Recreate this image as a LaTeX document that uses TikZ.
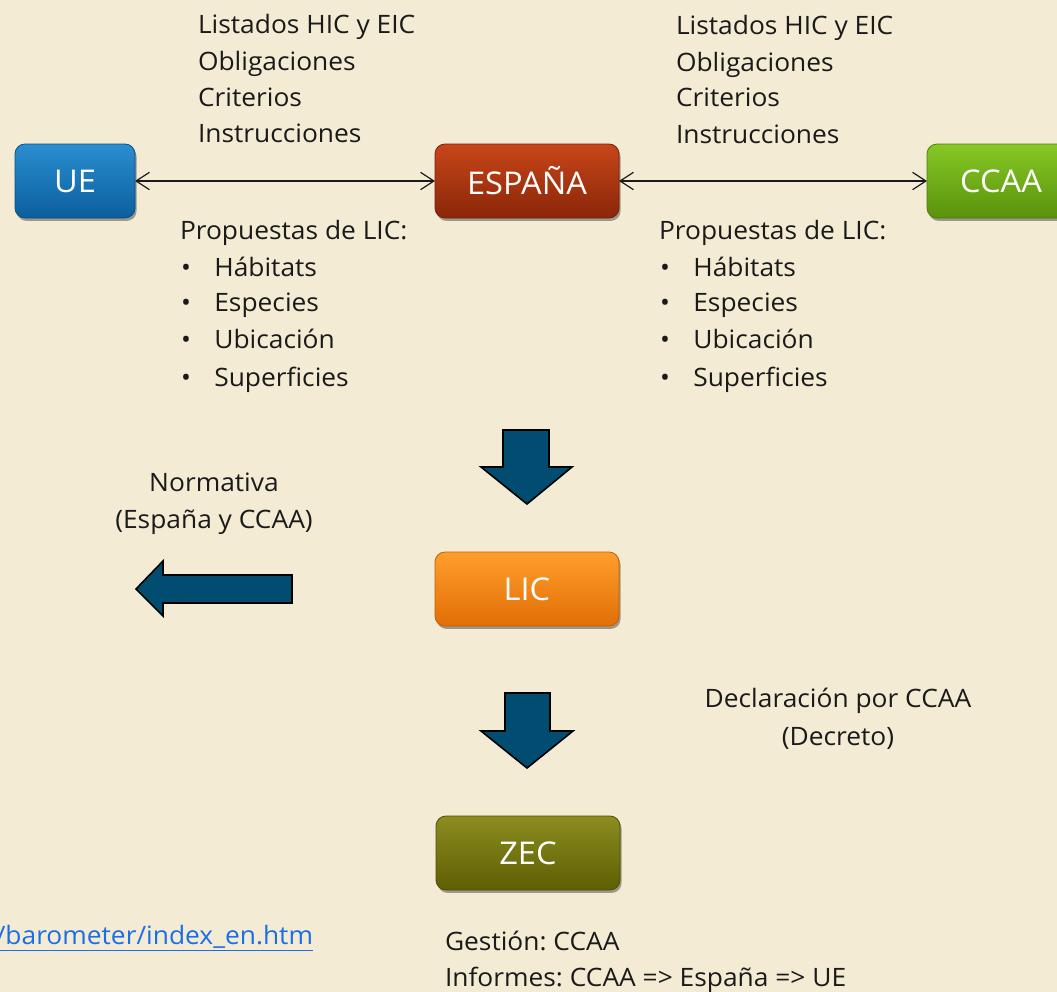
\documentclass[tikz,border=0pt]{standalone}
\usepackage{fontspec}
\setmainfont[FakeStretch=1.04]{Open Sans}
\usetikzlibrary{arrows.meta,shadows}
\definecolor{bg}{HTML}{F3EBD4}
\definecolor{ink}{HTML}{1A1A1A}
\definecolor{blockfill}{HTML}{014D72}
\definecolor{urlblue}{HTML}{1A6EE8}
\definecolor{ueT}{HTML}{2A8ED0}\definecolor{ueB}{HTML}{0B5E9E}\definecolor{ueD}{HTML}{0A4F86}
\definecolor{esT}{HTML}{C8461A}\definecolor{esB}{HTML}{8A2608}\definecolor{esD}{HTML}{7A2006}
\definecolor{caT}{HTML}{86C826}\definecolor{caB}{HTML}{5A920C}\definecolor{caD}{HTML}{4C7E08}
\definecolor{liT}{HTML}{FF9E2C}\definecolor{liB}{HTML}{E26E06}\definecolor{liD}{HTML}{C45E04}
\definecolor{zeT}{HTML}{8C8C20}\definecolor{zeB}{HTML}{5E5E04}\definecolor{zeD}{HTML}{4E4E02}
\tikzset{
  box/.style={rounded corners=7.5pt, minimum height=55.5pt, text=white,
    font=\fontsize{23.5}{27}\selectfont, line width=0.6pt,
    drop shadow={shadow xshift=1.2pt, shadow yshift=-2.2pt, opacity=0.35, fill=black}},
  txt/.style={anchor=base west, text=ink, font=\fontsize{19}{27}\selectfont\frenchspacing},
  ctxt/.style={anchor=base, text=ink, font=\fontsize{19}{27}\selectfont\frenchspacing},
  link/.style={<->, >={Straight Barb[length=10pt,width=13pt]}, line width=0.9pt, ink},
  blockarrow/.style={fill=blockfill, draw=black, line width=1.2pt, line join=miter}
}
\newcommand{\bul}[1]{\makebox[25pt][l]{\textbullet}#1}
\begin{document}
\begin{tikzpicture}[x=0.75pt,y=-0.75pt, every node/.style={inner sep=0pt, outer sep=0pt}]
\fill[bg] (0,0) rectangle (1057,992);
\useasboundingbox (0,0) rectangle (1057,992);

% boxes
\node[box, minimum width=90pt, top color=ueT, bottom color=ueB, draw=ueD] (ue) at (75,181) {UE};
\node[box, minimum width=138pt, top color=esT, bottom color=esB, draw=esD] (es) at (527,181) {ESPAÑA};
\node[box, minimum width=111pt, top color=caT, bottom color=caB, draw=caD] (ca) at (1001,181) {CCAA};
\node[box, minimum width=138pt, top color=liT, bottom color=liB, draw=liD] (lic) at (527,589) {LIC};
\node[box, minimum width=138pt, top color=zeT, bottom color=zeB, draw=zeD] (zec) at (528,853) {ZEC};

% connectors
\draw[link] (ue) -- (es);
\draw[link] (es) -- (ca);

% top texts left
\node[txt] (a1) at (198,33) {Listados HIC y EIC};
\node[txt] (a2) at (198,70) {Obligaciones};
\node[txt] (a3) at (198,106) {Criterios};
\node[txt] (a4) at (198,142) {Instrucciones};
% top texts right
\node[txt] (b1) at (676,34) {Listados HIC y EIC};
\node[txt] (b2) at (676,71) {Obligaciones};
\node[txt] (b3) at (676,106) {Criterios};
\node[txt] (b4) at (676,143) {Instrucciones};

% proposals left
\node[txt] (p0) at (180,239) {Propuestas de LIC:};
\node[txt] (p1) at (181,276) {\bul{Hábitats}};
\node[txt] (p2) at (181,311) {\bul{Especies}};
\node[txt] (p3) at (181,348) {\bul{Ubicación}};
\node[txt] (p4) at (181,386) {\bul{Superficies}};
% proposals right
\node[txt] (q0) at (659,239) {Propuestas de LIC:};
\node[txt] (q1) at (660,276) {\bul{Hábitats}};
\node[txt] (q2) at (660,311) {\bul{Especies}};
\node[txt] (q3) at (660,348) {\bul{Ubicación}};
\node[txt] (q4) at (660,386) {\bul{Superficies}};

% block arrows
\draw[blockarrow] (503,430) -- (549,430) -- (549,467) -- (572,467) -- (527,504) -- (481,467) -- (503,467) -- cycle;
\draw[blockarrow] (505,693) -- (550,693) -- (550,731) -- (573,731) -- (527,768) -- (481,731) -- (505,731) -- cycle;
\draw[blockarrow] (292,575) -- (292,603) -- (163,603) -- (163,616) -- (136,589) -- (163,561) -- (163,575) -- cycle;

% side texts
\node[ctxt] (n1) at (214,491) {Normativa};
\node[ctxt] (n2) at (214,528) {(España y CCAA)};
\node[ctxt] (d1) at (838,707) {Declaración por CCAA};
\node[ctxt] (d2) at (838,745) {(Decreto)};

% bottom texts
\node[txt, anchor=base east, text=urlblue] (url) at (313,944) {\underline{/barometer/index\_en.htm}};
\node[txt] (g1) at (445,950) {Gestión: CCAA};
\node[txt] (g2) at (445,986) {Informes: CCAA => España => UE};
\end{tikzpicture}
\end{document}
